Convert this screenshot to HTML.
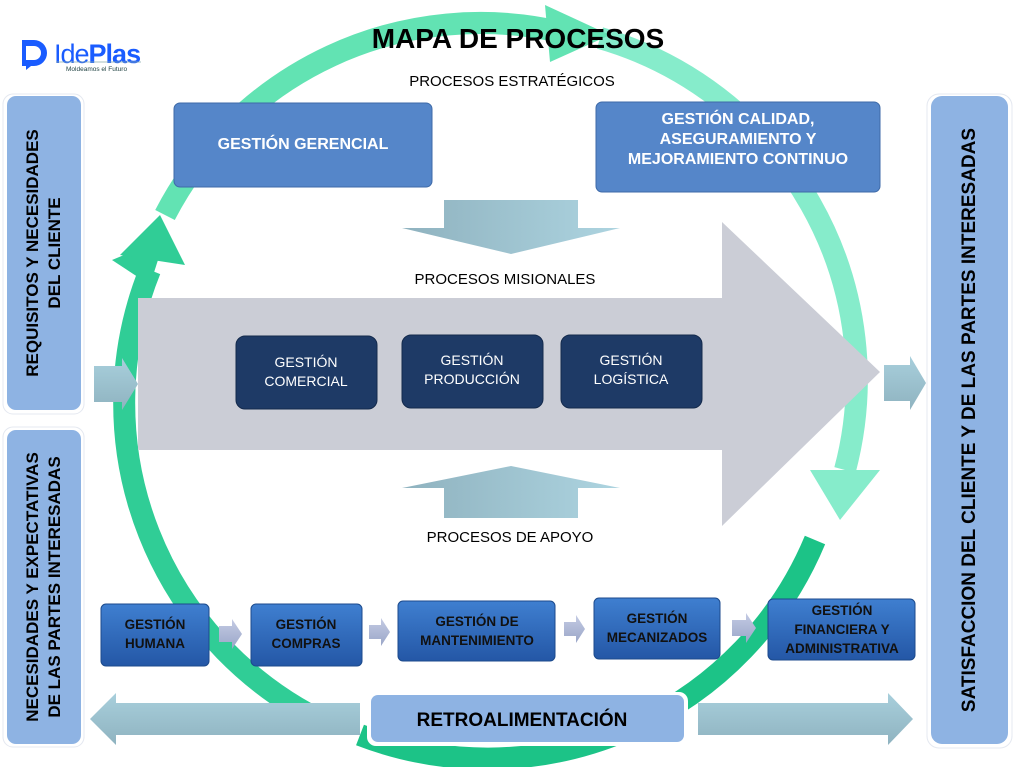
<!DOCTYPE html>
<html><head><meta charset="utf-8"><style>
body{margin:0;width:1015px;height:767px;overflow:hidden;background:#fff;font-family:"Liberation Sans",sans-serif}
svg text{font-family:"Liberation Sans",sans-serif}
</style></head><body>
<svg width="1015" height="767" viewBox="0 0 1015 767" xmlns="http://www.w3.org/2000/svg">
<defs>
<linearGradient id="ring" x1="0" y1="0" x2="0" y2="1"><stop offset="0" stop-color="#6ee6bb"/><stop offset="0.5" stop-color="#7fe8c4"/><stop offset="1" stop-color="#1fc88c"/></linearGradient>
<linearGradient id="blu" x1="0" y1="0" x2="0" y2="1"><stop offset="0" stop-color="#3f7fd0"/><stop offset="1" stop-color="#2457a6"/></linearGradient>
<linearGradient id="tl" x1="0" y1="0" x2="1" y2="0"><stop offset="0" stop-color="#8fb2bf"/><stop offset="1" stop-color="#add4e0"/></linearGradient>
<linearGradient id="tl2" x1="0" y1="0" x2="0" y2="1"><stop offset="0" stop-color="#a8cfdc"/><stop offset="1" stop-color="#8fb3c0"/></linearGradient>
<linearGradient id="sm" x1="0" y1="0" x2="0" y2="1"><stop offset="0" stop-color="#c4cbe4"/><stop offset="1" stop-color="#9aa6c8"/></linearGradient>
</defs>
<!-- ring -->
<path d="M165 215 A355 355 0 0 1 560 32" fill="none" stroke="#62e3b3" stroke-width="22"/>
<path d="M600 38 A355 355 0 0 1 845 470" fill="none" stroke="#86eccb" stroke-width="22"/>
<path d="M815 540 A355 355 0 0 1 360 735" fill="none" stroke="#1cc387" stroke-width="22"/>
<path d="M330 725 A355 355 0 0 1 150 270" fill="none" stroke="#30cd96" stroke-width="22"/>
<polygon points="545,5 610,35 550,62" fill="#62e3b3"/>
<polygon points="810,470 880,470 840,520" fill="#86eccb"/>
<polygon points="112,260 165,238 150,285" fill="#30cd96"/>
<polygon points="120,255 160,215 185,265" fill="#30cd96"/>
<!-- big gray arrow -->
<polygon points="138,298 722,298 722,222 880,372 722,526 722,450 138,450" fill="#cbcdd6"/>
<!-- logo -->
<path d="M22 40 h12 a13 13 0 0 1 0 26 h-3 l-5 4 v-4 h-4 z" fill="#1a5cff"/>
<path d="M26 46 h8 a7 7 0 0 1 0 14 h-8 z" fill="#fff"/>
<text x="54" y="63" font-size="27" fill="#1a5cff" letter-spacing="-1">Ide<tspan font-weight="bold">Plas</tspan></text>
<line x1="56" y1="62" x2="141" y2="62" stroke="#8aa" stroke-width="0.8"/>
<text x="66" y="71" font-size="6.5" fill="#244">Moldeamos el Futuro</text>
<!-- titles -->
<text x="518" y="48" font-size="28" font-weight="bold" text-anchor="middle" fill="#000">MAPA DE PROCESOS</text>
<text x="512" y="86" font-size="15" text-anchor="middle">PROCESOS ESTRATÉGICOS</text>
<text x="505" y="284" font-size="15" text-anchor="middle">PROCESOS MISIONALES</text>
<text x="510" y="542" font-size="15" text-anchor="middle">PROCESOS DE APOYO</text>
<!-- strategic boxes -->
<rect x="174" y="103" width="258" height="84" rx="6" fill="#5586c9" stroke="#3e6aa8"/>
<text x="303" y="149" font-size="16" font-weight="bold" fill="#fff" text-anchor="middle">GESTIÓN GERENCIAL</text>
<rect x="596" y="102" width="284" height="90" rx="6" fill="#5586c9" stroke="#3e6aa8"/>
<text x="738" y="124" font-size="16" font-weight="bold" fill="#fff" text-anchor="middle">GESTIÓN CALIDAD,</text>
<text x="738" y="144" font-size="16" font-weight="bold" fill="#fff" text-anchor="middle">ASEGURAMIENTO  Y</text>
<text x="738" y="164" font-size="16" font-weight="bold" fill="#fff" text-anchor="middle">MEJORAMIENTO CONTINUO</text>
<!-- down/up arrows -->
<polygon points="444,200 578,200 578,228 620,228 511,254 402,228 444,228" fill="url(#tl)"/>
<polygon points="511,466 620,488 578,488 578,518 444,518 444,488 402,488" fill="url(#tl)"/>
<!-- misional -->
<g font-size="14" fill="#fff" text-anchor="middle">
<rect x="236" y="336" width="141" height="73" rx="9" fill="#1e3a66" stroke="#142a4c"/>
<text x="306" y="367">GESTIÓN</text><text x="306" y="386">COMERCIAL</text>
<rect x="402" y="335" width="141" height="73" rx="9" fill="#1e3a66" stroke="#142a4c"/>
<text x="472" y="365">GESTIÓN</text><text x="472" y="384">PRODUCCIÓN</text>
<rect x="561" y="335" width="141" height="73" rx="9" fill="#1e3a66" stroke="#142a4c"/>
<text x="631" y="365">GESTIÓN</text><text x="631" y="384">LOGÍSTICA</text>
</g>
<!-- side panels -->
<rect x="3" y="94" width="81" height="320" rx="10" fill="#fff" stroke="#e4e8f0"/>
<rect x="7" y="96" width="74" height="314" rx="9" fill="#8eb3e3"/>
<text transform="translate(44,253) rotate(-90)" font-size="17" font-weight="bold" text-anchor="middle"><tspan x="0" y="-6">REQUISITOS Y NECESIDADES</tspan><tspan x="0" y="16">DEL CLIENTE</tspan></text>
<rect x="3" y="427" width="81" height="320" rx="10" fill="#fff" stroke="#e4e8f0"/>
<rect x="7" y="430" width="74" height="314" rx="9" fill="#8eb3e3"/>
<text transform="translate(44,587) rotate(-90)" font-size="17" font-weight="bold" text-anchor="middle"><tspan x="0" y="-6">NECESIDADES Y EXPECTATIVAS</tspan><tspan x="0" y="16">DE LAS PARTES INTERESADAS</tspan></text>
<rect x="927" y="94" width="85" height="654" rx="12" fill="#fff" stroke="#e4e8f0"/>
<rect x="931" y="96" width="77" height="648" rx="11" fill="#8eb3e3"/>
<text transform="translate(975,420) rotate(-90)" font-size="19" font-weight="bold" text-anchor="middle">SATISFACCION DEL CLIENTE Y DE LAS PARTES INTERESADAS</text>
<!-- small teal arrows in/out -->
<polygon points="94,366 122,366 122,358 138,384 122,410 122,402 94,402" fill="url(#tl2)"/>
<polygon points="884,365 910,365 910,356 926,383 910,410 910,401 884,401" fill="url(#tl2)"/>
<!-- support boxes -->
<g font-size="13.5" font-weight="bold" fill="#111" text-anchor="middle">
<rect x="101" y="604" width="108" height="62" rx="5" fill="url(#blu)" stroke="#1c4a8c"/>
<text x="155" y="629">GESTIÓN</text><text x="155" y="648">HUMANA</text>
<rect x="251" y="604" width="111" height="62" rx="5" fill="url(#blu)" stroke="#1c4a8c"/>
<text x="306" y="629">GESTIÓN</text><text x="306" y="648">COMPRAS</text>
<rect x="398" y="601" width="157" height="60" rx="5" fill="url(#blu)" stroke="#1c4a8c"/>
<text x="477" y="626">GESTIÓN  DE</text><text x="477" y="645">MANTENIMIENTO</text>
<rect x="594" y="598" width="126" height="61" rx="5" fill="url(#blu)" stroke="#1c4a8c"/>
<text x="657" y="623">GESTIÓN</text><text x="657" y="642">MECANIZADOS</text>
<rect x="768" y="599" width="147" height="61" rx="5" fill="url(#blu)" stroke="#1c4a8c"/>
<text x="842" y="615">GESTIÓN</text><text x="842" y="634">FINANCIERA Y</text><text x="842" y="653">ADMINISTRATIVA</text>
</g>
<g fill="url(#sm)">
<polygon points="219,626 232,626 232,619 242,634 232,649 232,642 219,642"/>
<polygon points="369,625 381,625 381,618 390,632 381,646 381,639 369,639"/>
<polygon points="564,622 576,622 576,615 585,629 576,643 576,636 564,636"/>
<polygon points="732,620 746,620 746,613 756,628 746,643 746,636 732,636"/>
</g>
<!-- feedback -->
<polygon points="360,703 360,735 116,735 116,745 90,719 116,693 116,703" fill="url(#tl2)"/>
<polygon points="698,703 888,703 888,693 913,719 888,745 888,735 698,735" fill="url(#tl2)"/>
<rect x="367" y="692" width="321" height="54" rx="9" fill="#fff"/>
<rect x="371" y="695" width="313" height="47" rx="7" fill="#8eb3e3"/>
<text x="522" y="726" font-size="19" font-weight="bold" text-anchor="middle">RETROALIMENTACIÓN</text>
</svg>
</body></html>
